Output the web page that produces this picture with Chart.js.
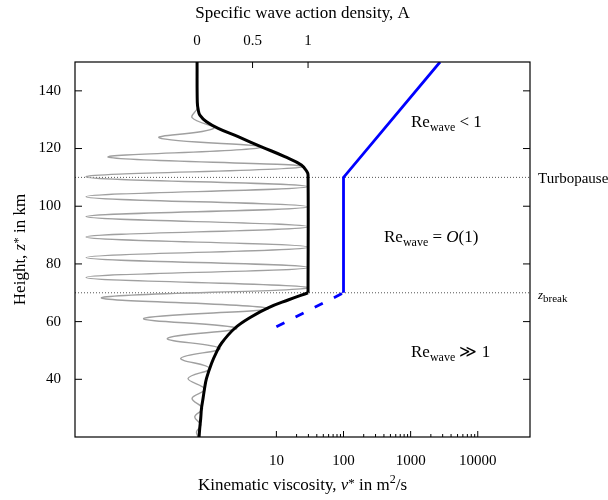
<!DOCTYPE html>
<html lang="en">
<head>
  <meta charset="UTF-8">
  <title>Wave action density and kinematic viscosity</title>
  <script src="https://cdn.jsdelivr.net/npm/chart.js"></script>
  <style>
    body { margin: 0; background: #fff; }
    canvas { display: block; }
  </style>
</head>
<body>
  <canvas id="chart" width="608" height="500"></canvas>

  <script>
    // axis ticks
    const heightTicks = [40, 60, 80, 100, 120, 140];
    const actionTicks = [0, 0.5, 1];
    const viscTicks = [10, 100, 1000, 10000];

    // envelope of wave action A (black), split at the break so the corner stays sharp
    const envUpperZ = [150, 136, 133.5, 131.6, 129.3, 127.0, 124.1, 120.6, 117.2, 114.3, 112, 110.8, 70];
    const envUpperA = [0, 0.002, 0.01, 0.025, 0.085, 0.19, 0.37, 0.58, 0.79, 0.94, 0.99, 1, 1];
    const envLowerZ = [70, 67.5, 64.8, 61.7, 57.7, 52.5, 49, 45.5, 40.3, 36.5, 33.4, 30, 26.5, 23, 20];
    const envLowerA = [1, 0.82, 0.64, 0.49, 0.34, 0.22, 0.17, 0.13, 0.085, 0.066, 0.054, 0.04, 0.033, 0.024, 0.018];

    // oscillating wave (grey), turning points
    const waveZ = [150, 137.5, 134.2, 130.7, 127.0, 123.7, 120.4, 117.0, 113.7, 110.2, 106.8, 103.3, 99.8,
                   96.4, 92.9, 89.3, 85.8, 82.2, 78.8, 75.3, 71.8, 68.3, 64.6, 61.1, 57.7, 54.2, 50.7,
                   47.3, 43.8, 40.3, 36.6, 33.4, 29.9, 27.0, 24.2, 21.8, 20];
    const waveA = [0, -0.001, 0.005, -0.045, 0.15, -0.34, 0.58, -0.8, 0.96, -1, 1, -1, 1,
                   -1, 1, -1, 1, -1, 1, -1, 1, -0.86, 0.64, -0.48, 0.356, -0.267, 0.205,
                   -0.147, 0.115, -0.081, 0.07, -0.045, 0.049, -0.021, 0.033, -0.005, 0.01];

    // kinematic viscosity profile (blue)
    const viscZ = [70, 110, 150];
    const viscNu = [100, 100, 2740];
    const viscDashZ = [58.2, 70];
    const viscDashNu = [10, 100];

    // reference levels
    const turbopauseZ = 110;
    const breakZ = 70;

    const SERIF = '"Liberation Serif", "DejaVu Serif", serif';

    function pts(xs, ys) {
      return xs.map((x, i) => ({ x: x, y: ys[i] }));
    }

    function font(size, italic) {
      return (italic ? 'italic ' : '') + size + 'px ' + SERIF;
    }

    // draws a run of text pieces [text, size, italic, dy] on one baseline
    function drawRun(ctx, parts, x, y, align) {
      let w = 0;
      parts.forEach(p => { ctx.font = font(p[1], p[2]); w += ctx.measureText(p[0]).width; });
      let cx = align === 'center' ? x - w / 2 : x;
      ctx.textAlign = 'left';
      ctx.textBaseline = 'alphabetic';
      parts.forEach(p => {
        ctx.font = font(p[1], p[2]);
        ctx.fillText(p[0], cx, y + (p[3] || 0));
        cx += ctx.measureText(p[0]).width;
      });
    }

    const framePlugin = {
      id: 'frame',
      afterDatasetsDraw(chart) {
        const ctx = chart.ctx;
        const a = chart.chartArea;
        const ys = chart.scales.y, xs = chart.scales.x, xt = chart.scales.xA;
        ctx.save();
        ctx.strokeStyle = '#000';
        ctx.lineWidth = 1.2;
        ctx.strokeRect(a.left, a.top, a.right - a.left, a.bottom - a.top);

        ctx.lineWidth = 1;
        ctx.beginPath();
        heightTicks.forEach(v => {
          const py = ys.getPixelForValue(v);
          ctx.moveTo(a.left, py); ctx.lineTo(a.left + 7, py);
          ctx.moveTo(a.right, py); ctx.lineTo(a.right - 7, py);
        });
        actionTicks.forEach(v => {
          const px = xt.getPixelForValue(v);
          ctx.moveTo(px, a.top); ctx.lineTo(px, a.top + 6);
        });
        viscTicks.forEach(v => {
          const px = xs.getPixelForValue(v);
          ctx.moveTo(px, a.bottom); ctx.lineTo(px, a.bottom - 6);
        });
        viscTicks.slice(0, -1).forEach(d => {
          for (let k = 2; k <= 9; k++) {
            const px = xs.getPixelForValue(d * k);
            ctx.moveTo(px, a.bottom); ctx.lineTo(px, a.bottom - 3);
          }
        });
        ctx.stroke();

        ctx.fillStyle = '#000';
        const cx = (a.left + a.right) / 2;
        const cy = (a.top + a.bottom) / 2;
        drawRun(ctx, [['Kinematic viscosity, ', 17], ['\u03BD', 17, true], ['*', 13, false, -3],
                      [' in m', 17], ['2', 12, false, -7], ['/s', 17]], cx, 490, 'center');

        ctx.save();
        ctx.translate(25, cy);
        ctx.rotate(-Math.PI / 2);
        drawRun(ctx, [['Height, ', 17], ['z', 17, true], ['*', 13, false, -3], [' in km', 17]], 0, 0, 'center');
        ctx.restore();

        drawRun(ctx, [['Re', 17], ['wave', 12, false, 3.5], [' < 1', 17]], 411, 127);
        drawRun(ctx, [['Re', 17], ['wave', 12, false, 3.5], [' = ', 17], ['O', 17, true], ['(1)', 17]], 384, 242);
        drawRun(ctx, [['Re', 17], ['wave', 12, false, 3.5], [' \u226B 1', 17]], 411, 357);

        drawRun(ctx, [['Turbopause', 15]], a.right + 8, ys.getPixelForValue(turbopauseZ) + 6);
        drawRun(ctx, [['z', 13, true], ['break', 11, false, 3]], a.right + 8, ys.getPixelForValue(breakZ) + 6);
        ctx.restore();
      }
    };

    const tickFont = { family: SERIF, size: 15 };

    new Chart(document.getElementById('chart'), {
      type: 'scatter',
      data: {
        datasets: [
          {
            data: pts(envUpperA, envUpperZ), xAxisID: 'xA', yAxisID: 'y',
            showLine: true, borderColor: '#000', borderWidth: 3, tension: 0.4, pointRadius: 0
          },
          {
            data: pts(envLowerA, envLowerZ), xAxisID: 'xA', yAxisID: 'y',
            showLine: true, borderColor: '#000', borderWidth: 3, tension: 0.4, pointRadius: 0
          },
          {
            data: pts(viscNu, viscZ), xAxisID: 'x', yAxisID: 'y',
            showLine: true, borderColor: '#0000ff', borderWidth: 2.8, tension: 0, pointRadius: 0
          },
          {
            data: pts(viscDashNu, viscDashZ), xAxisID: 'x', yAxisID: 'y',
            showLine: true, borderColor: '#0000ff', borderWidth: 2.8, borderDash: [9, 12.5],
            tension: 0, pointRadius: 0
          },
          {
            data: pts(waveA, waveZ), xAxisID: 'xA', yAxisID: 'y',
            showLine: true, borderColor: '#a0a0a0', borderWidth: 1.4, tension: 0.4, pointRadius: 0
          },
          {
            data: pts([0.01, 60000], [turbopauseZ, turbopauseZ]), xAxisID: 'x', yAxisID: 'y',
            showLine: true, borderColor: '#555', borderWidth: 1, borderDash: [1, 2], pointRadius: 0
          },
          {
            data: pts([0.01, 60000], [breakZ, breakZ]), xAxisID: 'x', yAxisID: 'y',
            showLine: true, borderColor: '#555', borderWidth: 1, borderDash: [1, 2], pointRadius: 0
          }
        ]
      },
      options: {
        responsive: false,
        animation: false,
        layout: { padding: { left: 0, right: 78, top: 0, bottom: 0 } },
        plugins: { legend: { display: false }, tooltip: { enabled: false } },
        scales: {
          x: {
            type: 'logarithmic', position: 'bottom', min: 0.01, max: 60000,
            grid: { display: false, drawTicks: false }, border: { display: false },
            afterBuildTicks: s => { s.ticks = viscTicks.map(v => ({ value: v })); },
            afterFit: s => { s.height = 63; },
            ticks: { font: tickFont, color: '#000', padding: 15, maxRotation: 0, autoSkip: false,
                     callback: v => String(v) }
          },
          xA: {
            type: 'linear', position: 'top', min: -1.1, max: 3.0,
            grid: { display: false, drawTicks: false }, border: { display: false },
            afterBuildTicks: s => { s.ticks = actionTicks.map(v => ({ value: v })); },
            afterFit: s => { s.height = 62; },
            ticks: { font: tickFont, color: '#000', padding: 12, maxRotation: 0, autoSkip: false,
                     callback: v => String(v) },
            title: { display: true, text: 'Specific wave action density, A', color: '#000',
                     font: { family: SERIF, size: 17 }, padding: { top: 3, bottom: 0 } }
          },
          y: {
            type: 'linear', position: 'left', min: 20, max: 150,
            grid: { display: false, drawTicks: false }, border: { display: false },
            afterBuildTicks: s => { s.ticks = heightTicks.map(v => ({ value: v })); },
            afterFit: s => { s.width = 75; },
            ticks: { font: tickFont, color: '#000', padding: 14, autoSkip: false,
                     callback: v => String(v) }
          }
        }
      },
      plugins: [framePlugin]
    });
  </script>
</body>
</html>
